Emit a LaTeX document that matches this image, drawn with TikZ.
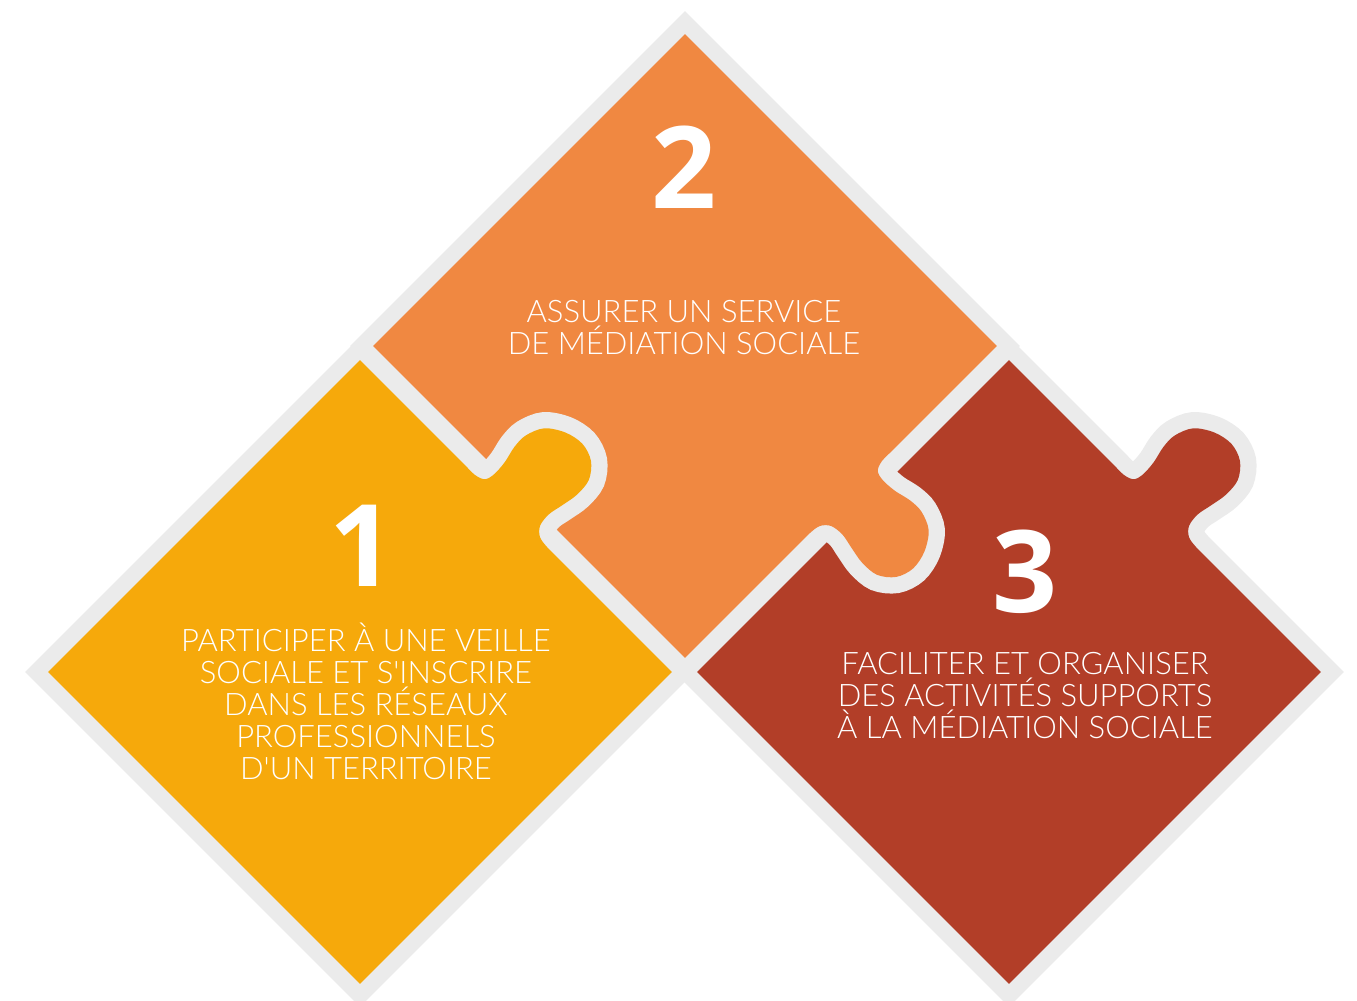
\documentclass[tikz,border=0pt]{standalone}
\usepackage{fontspec}
\newfontfamily\lightfont{Lato Light}
\newfontfamily\numfont{Open Sans}
\definecolor{pyellow}{HTML}{F6A90B}
\definecolor{porange}{HTML}{F08841}
\definecolor{pred}{HTML}{B23E28}
\definecolor{pgray}{HTML}{EBEBEB}
\newcommand\puzzlepath{(-220.6,-220.6) -- (-220.6,220.6) -- plot[smooth,tension=0.55] coordinates {(-72,220.6) (-58,220.6) (-48,224.6) (-45,234.6) (-46,250.6) (-50,268.6) (-50,284.6) (-42,302.6) (-24,314.6) (-4,318.6) (14,312.6) (26,297.6) (28,278.6) (25,260.6) (22,244.6) (24,230.6) (32,222.6) (44,220.6) (58,220.6)} -- (220.6,220.6) -- (220.6,-220.6) -- cycle}
\tikzset{
  piece/.style={preaction={draw=pgray,line width=32.5pt,line join=miter,miter limit=10},fill=#1},
  numtxt/.style={text=white,font=\numfont\bfseries\fontsize{114}{114}\selectfont,inner sep=0pt},
  bodytxt/.style={text=white,font=\lightfont\fontsize{31}{32}\selectfont,align=center,inner sep=0pt}
}
\begin{document}
\begin{tikzpicture}[x=1pt,y=1pt]
\useasboundingbox (0,0) rectangle (1357,1001);
% piece 3 (red)
\begin{scope}[shift={(1009,329)},rotate=-45]
  \path[piece=pred] \puzzlepath;
\end{scope}
% piece 2 (orange)
\begin{scope}[shift={(685,655)},rotate=-135]
  \path[piece=porange] \puzzlepath;
\end{scope}
% piece 1 (yellow)
\begin{scope}[shift={(360,329)},rotate=-45]
  \path[piece=pyellow] \puzzlepath;
\end{scope}
\node[numtxt] (n2) at (684,834) {2};
\node[numtxt] (n1) at (362,455) {1};
\node[numtxt] (n3) at (1025,429) {3};
\node[bodytxt] (t2) at (684,673) {ASSURER UN SERVICE\\DE MÉDIATION SOCIALE};
\node[bodytxt] (t1) at (366,300) {PARTICIPER À UNE VEILLE\\SOCIALE ET S'INSCRIRE\\DANS LES RÉSEAUX\\PROFESSIONNELS\\D'UN TERRITOIRE};
\node[bodytxt] (t3) at (1025,305) {FACILITER ET ORGANISER\\DES ACTIVITÉS SUPPORTS\\À LA MÉDIATION SOCIALE};
\end{tikzpicture}
\end{document}
